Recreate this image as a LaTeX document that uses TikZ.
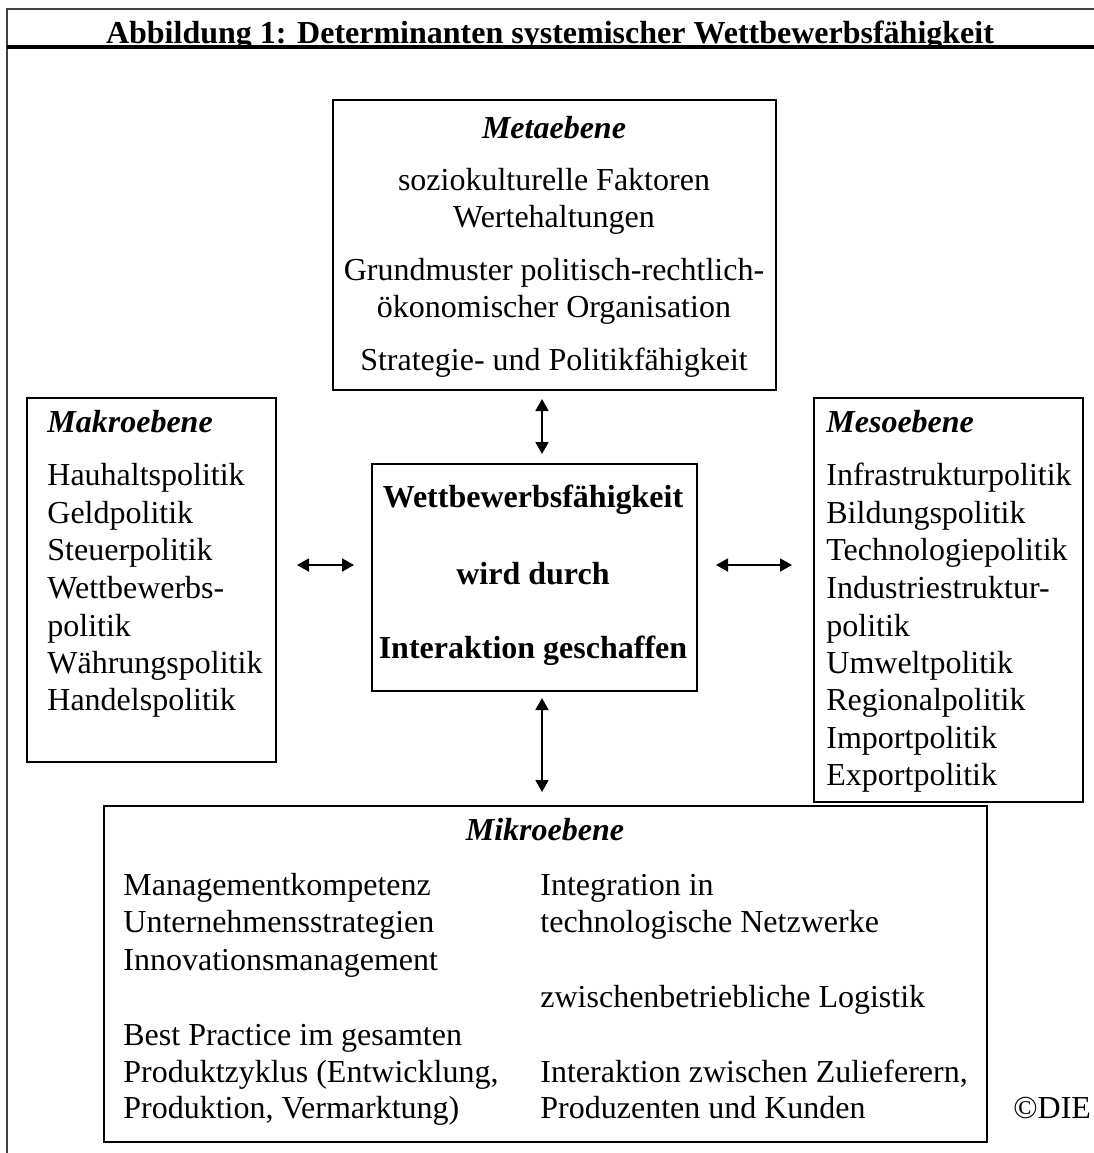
\documentclass[tikz,border=0pt]{standalone}
\usepackage{fontspec}
\setmainfont{Liberation Serif}
\usetikzlibrary{arrows.meta}
\begin{document}
\begin{tikzpicture}[x=0.5pt,y=-0.5pt,
  txt/.style={anchor=base west,inner sep=0pt,font=\fontsize{16}{18.75}\selectfont},
  ctxt/.style={anchor=base,inner sep=0pt,font=\fontsize{16}{18.75}\selectfont},
  hd/.style={font=\fontsize{16}{18.75}\selectfont\bfseries\itshape},
  bd/.style={font=\fontsize{16}{18.75}\selectfont\bfseries},
  box/.style={draw,line width=1pt},
  dbl/.style={{Triangle[length=6pt,width=6.5pt]}-{Triangle[length=6pt,width=6.5pt]},line width=0.9pt}]
\useasboundingbox (0,0) rectangle (1094,1153);
% outer frame
\coordinate (fr1) at (1094,9); \coordinate (fr2) at (7,9); \coordinate (fr3) at (7,1153);
\draw[line width=1pt,black!75] (fr1) -- (fr2) -- (fr3);
\begin{scope}
\clip (0,0) rectangle (1094,46);
\node[ctxt,bd] (title) at (550,43) {Abbildung 1: Determinanten systemischer Wettbewerbsfähigkeit};
\end{scope}
\coordinate (tl1) at (7,47); \coordinate (tl2) at (1094,47);
\draw[line width=1.6pt] (tl1) -- (tl2);

% boxes
\draw[box] (333,100) rectangle (776,390);
\draw[box] (27,398) rectangle (276,762);
\draw[box] (814,398) rectangle (1083,802);
\draw[box] (372,464) rectangle (697,691);
\draw[box] (104,806) rectangle (987,1142);

% Metaebene
\node[ctxt,hd] (meta) at (554,138) {Metaebene};
\node[ctxt] (m1) at (554,190) {soziokulturelle Faktoren};
\node[ctxt] (m2) at (554,227) {Wertehaltungen};
\node[ctxt] (m3) at (554,280) {Grundmuster politisch-rechtlich-};
\node[ctxt] (m4) at (554,317) {ökonomischer Organisation};
\node[ctxt] (m5) at (554,370) {Strategie- und Politikfähigkeit};

% Makroebene
\node[txt,hd] (makro) at (47,432) {Makroebene};
\node[txt] (k1) at (47,485) {Hauhaltspolitik};
\node[txt] (k2) at (47,523) {Geldpolitik};
\node[txt] (k3) at (47,560) {Steuerpolitik};
\node[txt] (k4) at (47,598) {Wettbewerbs-};
\node[txt] (k5) at (47,636) {politik};
\node[txt] (k6) at (47,673) {Währungspolitik};
\node[txt] (k7) at (47,710) {Handelspolitik};

% Mesoebene
\node[txt,hd] (meso) at (826,432) {Mesoebene};
\node[txt] (s1) at (826,485) {Infrastrukturpolitik};
\node[txt] (s2) at (826,523) {Bildungspolitik};
\node[txt] (s3) at (826,560) {Technologiepolitik};
\node[txt] (s4) at (826,598) {Industriestruktur-};
\node[txt] (s5) at (826,636) {politik};
\node[txt] (s6) at (826,673) {Umweltpolitik};
\node[txt] (s7) at (826,710) {Regionalpolitik};
\node[txt] (s8) at (826,748) {Importpolitik};
\node[txt] (s9) at (826,785) {Exportpolitik};

% Center
\node[ctxt,bd] (c1) at (533,507) {Wettbewerbsfähigkeit};
\node[ctxt,bd] (c2) at (533,584) {wird durch};
\node[ctxt,bd] (c3) at (533,658) {Interaktion geschaffen};

% Mikroebene
\node[ctxt,hd] (mikro) at (545,840) {Mikroebene};
\node[txt] (l1) at (123,895) {Managementkompetenz};
\node[txt] (l2) at (123,932) {Unternehmensstrategien};
\node[txt] (l3) at (123,970) {Innovationsmanagement};
\node[txt] (l4) at (123,1045) {Best Practice im gesamten};
\node[txt] (l5) at (123,1082) {Produktzyklus (Entwicklung,};
\node[txt] (l6) at (123,1118) {Produktion, Vermarktung)};
\node[txt] (r1) at (540,895) {Integration in};
\node[txt] (r2) at (540,932) {technologische Netzwerke};
\node[txt] (r3) at (540,1007) {zwischenbetriebliche Logistik};
\node[txt] (r4) at (540,1082) {Interaktion zwischen Zulieferern,};
\node[txt] (r5) at (540,1118) {Produzenten und Kunden};

\node[txt] (die) at (1013,1118) {©DIE};

% arrows
\coordinate (a1) at (542,399); \coordinate (a2) at (542,454);
\coordinate (b1) at (542,698); \coordinate (b2) at (542,792);
\coordinate (h1) at (297,565); \coordinate (h2) at (354,565);
\coordinate (g1) at (716,565); \coordinate (g2) at (792,565);
\draw[dbl] (a1) -- (a2);
\draw[dbl] (b1) -- (b2);
\draw[dbl] (h1) -- (h2);
\draw[dbl] (g1) -- (g2);
\end{tikzpicture}
\end{document}
